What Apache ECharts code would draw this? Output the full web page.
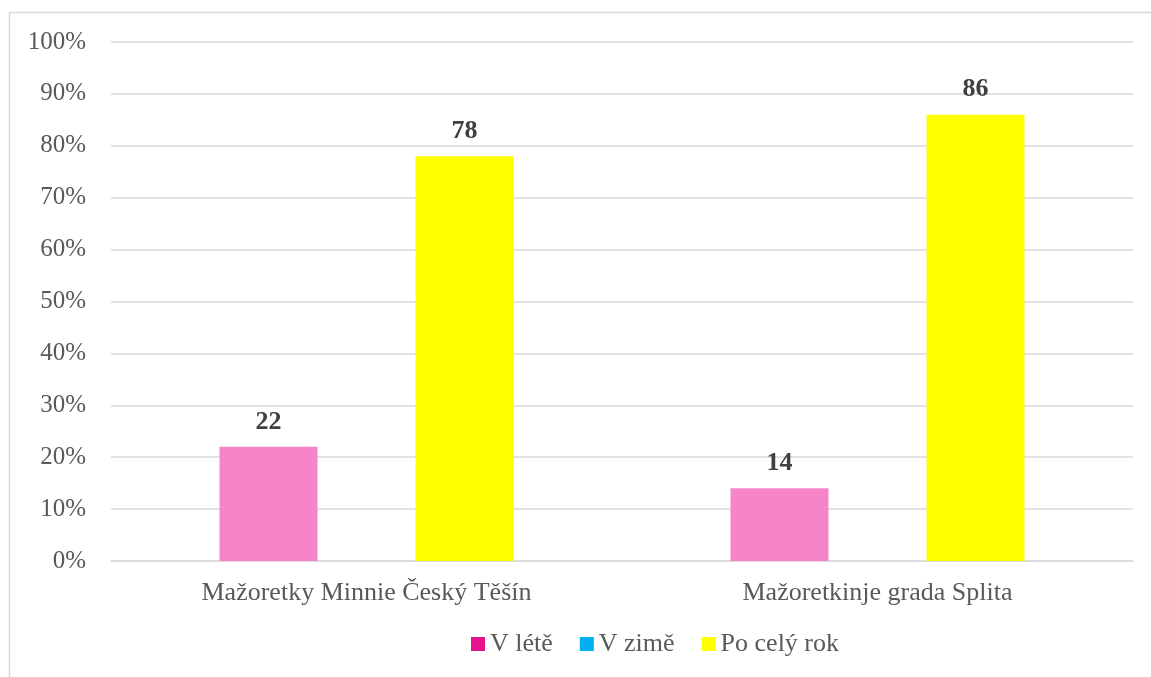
<!DOCTYPE html>
<html><head><meta charset="utf-8">
<script src="https://cdn.jsdelivr.net/npm/echarts@6/dist/echarts.min.js"></script>
<style>html,body{margin:0;padding:0;background:#fff}#c{width:1151px;height:677px}</style>
</head><body><div id="c"></div>
<script>
const categories = ['Mažoretky Minnie Český Těšín', 'Mažoretkinje grada Splita'];
const seriesNames = ['V létě', 'V zimě', 'Po celý rok'];
const summer = [22, 14];
const winter = [0, 0];
const allYear = [78, 86];
const yTicks = [0, 10, 20, 30, 40, 50, 60, 70, 80, 90, 100];

const font = '"Liberation Serif","Times New Roman",serif';
const chart = echarts.init(document.getElementById('c'));
const lbl = {show: true, position: 'top', distance: 12, fontFamily: font, fontSize: 26, fontWeight: 'bold', color: '#404040',
  formatter: p => p.value === 0 ? '' : p.value};
chart.setOption({
  animation: false,
  graphic: [{type: 'rect', shape: {x: 9.5, y: 12.5, width: 1300, height: 800}, style: {fill: 'none', stroke: '#d9d9d9', lineWidth: 1.5}, silent: true}],
  grid: {left: 111, right: 18, top: 42, bottom: 116},
  legend: {
    top: 626, left: 466, itemWidth: 14, itemHeight: 14, itemGap: 27, icon: 'rect',
    textStyle: {fontFamily: font, fontSize: 26, color: '#595959', padding: [0, 0, 0, 0]},
    data: [
      {name: seriesNames[0], itemStyle: {color: '#E4148C'}},
      {name: seriesNames[1], itemStyle: {color: '#00B0F0'}},
      {name: seriesNames[2], itemStyle: {color: '#FFFF00'}}
    ]
  },
  xAxis: {
    type: 'category', data: categories,
    axisLine: {lineStyle: {color: '#d9d9d9', width: 1.5}}, axisTick: {show: false},
    axisLabel: {fontFamily: font, fontSize: 26, color: '#595959', margin: 19}
  },
  yAxis: {
    type: 'value', min: 0, max: 100, interval: 10,
    axisLine: {show: false}, axisTick: {show: false},
    splitLine: {lineStyle: {color: '#d9d9d9', width: 1.5}},
    axisLabel: {fontFamily: font, fontSize: 25, color: '#595959', margin: 25, formatter: '{value}%'}
  },
  series: [
    {name: seriesNames[0], type: 'bar', data: summer, barWidth: 98, barGap: '0%', itemStyle: {color: '#F585C8'}, label: lbl},
    {name: seriesNames[1], type: 'bar', data: winter, barWidth: 98, barGap: '0%', itemStyle: {color: '#00B0F0'}, label: lbl},
    {name: seriesNames[2], type: 'bar', data: allYear, barWidth: 98, barGap: '0%', itemStyle: {color: '#FFFF00'}, label: lbl}
  ]
});
</script></body></html>
